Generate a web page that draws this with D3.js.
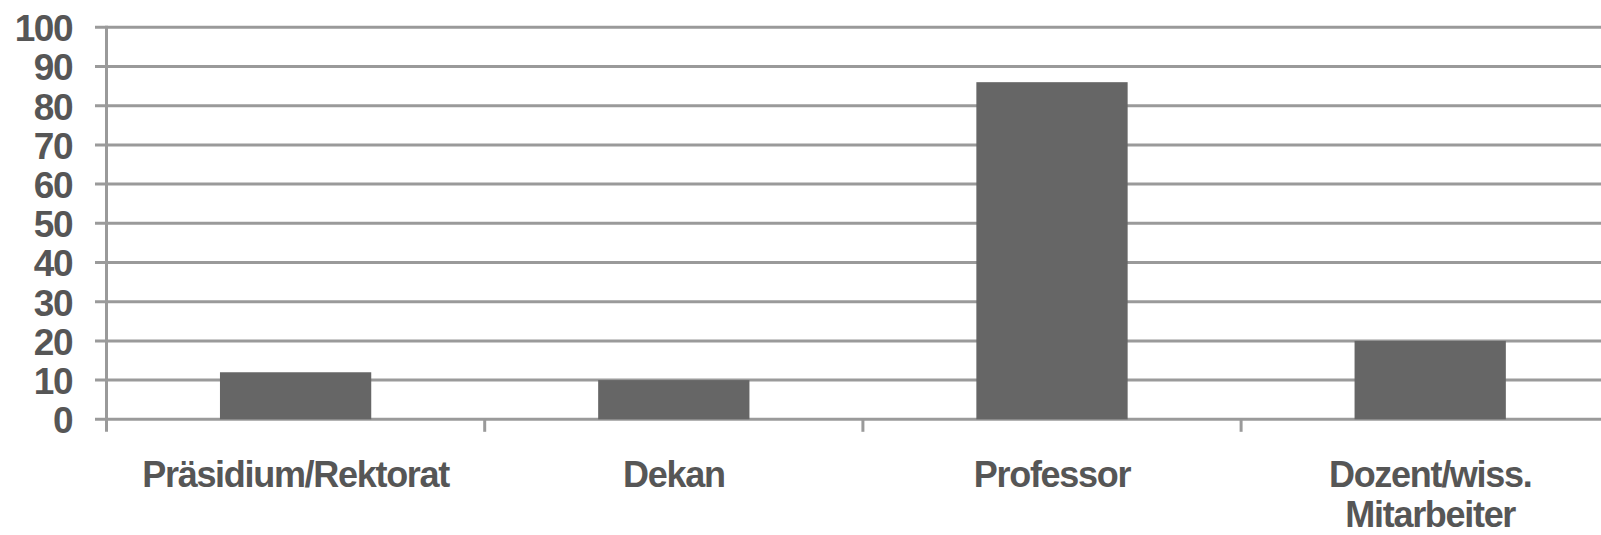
<!DOCTYPE html>
<html>
<head>
<meta charset="utf-8">
<script src="https://cdn.jsdelivr.net/npm/d3@7"></script>
<style>
  html, body { margin: 0; padding: 0; background: #fff; }
  svg { display: block; }
  text { font-family: "Liberation Sans", Arial, sans-serif; font-weight: bold; fill: #565656; }
</style>
</head>
<body>
<svg id="chart" width="1601" height="535"></svg>
<script>
// Roles and their counts
const categories = ["Präsidium/Rektorat", "Dekan", "Professor", "Dozent/wiss. Mitarbeiter"];
const categoryLines = [["Präsidium/Rektorat"], ["Dekan"], ["Professor"], ["Dozent/wiss.", "Mitarbeiter"]];
const values = [12, 10, 86, 20];
const yTicks = [0, 10, 20, 30, 40, 50, 60, 70, 80, 90, 100];

const svg = d3.select("#chart");
const plot = { left: 106.5, top: 27.3, bottom: 419.3, step: 378.2 };
const plotRight = plot.left + plot.step * categories.length;

const x = d3.scaleBand()
  .domain(categories)
  .range([plot.left, plotRight])
  .paddingInner(0.6)
  .paddingOuter(0.3);

const y = d3.scaleLinear()
  .domain([0, 100])
  .range([plot.bottom, plot.top]);

const gridColor = "#9a9a9a";

// Horizontal gridlines (including the baseline)
svg.append("g")
  .selectAll("line")
  .data(yTicks)
  .join("line")
  .attr("x1", plot.left - 11.5)
  .attr("x2", 1601)
  .attr("y1", d => y(d))
  .attr("y2", d => y(d))
  .attr("stroke", gridColor)
  .attr("stroke-width", 3);

// Vertical axis line
svg.append("line")
  .attr("x1", plot.left).attr("x2", plot.left)
  .attr("y1", y(100) - 1.5).attr("y2", plot.bottom + 12.5)
  .attr("stroke", gridColor).attr("stroke-width", 3);

// Category separator ticks below the baseline
svg.append("g")
  .selectAll("line")
  .data(d3.range(1, categories.length + 1))
  .join("line")
  .attr("x1", i => plot.left + i * plot.step)
  .attr("x2", i => plot.left + i * plot.step)
  .attr("y1", plot.bottom)
  .attr("y2", plot.bottom + 12.5)
  .attr("stroke", gridColor)
  .attr("stroke-width", 3);

// Y-axis labels
const yAxis = d3.axisLeft(y).tickValues(yTicks).tickSize(0).tickPadding(34.5);
const yg = svg.append("g").attr("transform", `translate(${plot.left},0)`).call(yAxis);
yg.select(".domain").remove();
yg.selectAll("text")
  .attr("font-size", null)
  .attr("font-family", null)
  .style("font-size", "37px")
  .style("letter-spacing", "-1.5px")
  .attr("dy", "0.36em");

// Bars
svg.append("g")
  .selectAll("rect")
  .data(categories.map((c, i) => ({ c, v: values[i] })))
  .join("rect")
  .attr("x", d => x(d.c))
  .attr("width", x.bandwidth())
  .attr("y", d => y(d.v))
  .attr("height", d => y(0) - y(d.v))
  .attr("fill", "#666666");

// Category labels
const labels = svg.append("g")
  .selectAll("text")
  .data(categories.map((c, i) => ({ c, lines: categoryLines[i] })))
  .join("text")
  .attr("text-anchor", "middle")
  .style("font-size", "36px")
  .style("letter-spacing", "-1.3px")
  .attr("transform", d => `translate(${x(d.c) + x.bandwidth() / 2},487)`);

labels.selectAll("tspan")
  .data(d => d.lines)
  .join("tspan")
  .attr("x", 0)
  .attr("y", (d, i) => i * 39.5)
  .text(d => d);
</script>
</body>
</html>
